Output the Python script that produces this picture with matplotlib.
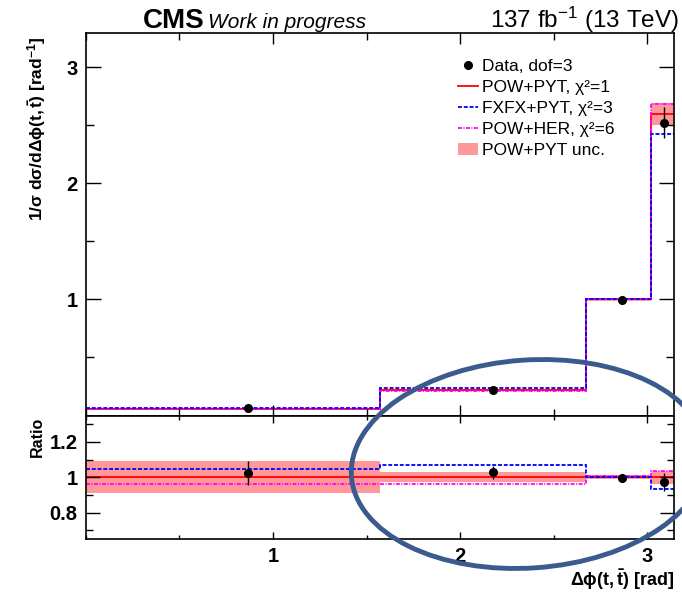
import matplotlib
matplotlib.use("Agg")
import matplotlib.pyplot as plt
import numpy as np
from matplotlib.lines import Line2D
from matplotlib.patches import Ellipse, Patch
from matplotlib.ticker import FixedLocator, MultipleLocator, FuncFormatter

plt.rcParams["font.family"] = ["Liberation Sans", "DejaVu Sans"]
plt.rcParams["mathtext.fontset"] = "custom"
plt.rcParams["mathtext.rm"] = "Liberation Sans"
plt.rcParams["mathtext.it"] = "Liberation Sans:italic"
plt.rcParams["mathtext.bf"] = "Liberation Sans:bold"
plt.rcParams["mathtext.sf"] = "Liberation Sans"

# binning in delta phi (rad)
bin_edges = [0.0, 1.5708, 2.670, 3.020, 3.1416]

# unfolded data, normalised
data_x = [0.866, 2.176, 2.863, 3.089]
data_y = [0.0614, 0.2240, 0.998, 2.523]
data_err = [0.0042, 0.0078, 0.012, 0.135]

# predictions
pow_pyt = [0.0600, 0.2180, 1.000, 2.595]
pow_pyt_unc = [0.0054, 0.0061, 0.010, 0.095]
fxfx_pyt = [0.0628, 0.2328, 1.000, 2.426]
pow_her = [0.0577, 0.2097, 1.005, 2.683]

legend_labels = ["Data, dof=3", "POW+PYT, χ²=1", "FXFX+PYT, χ²=3",
                 "POW+HER, χ²=6", "POW+PYT unc."]

band_col = "#ff9999"
dash_blue = (0, (2.2, 1.0))
dashdot_mag = (0, (2.2, 0.8, 0.6, 0.8))
lw = 1.3

fig = plt.figure(figsize=(6.82, 6.0), dpi=100)
W, H = 682.0, 600.0
ax = fig.add_axes([85.8 / W, 1 - 415.5 / H, (674 - 85.8) / W, (415.5 - 32.5) / H])
rax = fig.add_axes([85.8 / W, 1 - 539 / H, (674 - 85.8) / W, (539 - 415.5) / H])

ref = np.array(pow_pyt)
unc = np.array(pow_pyt_unc)

# --- main panel ---
ax.stairs(ref + unc, bin_edges, baseline=ref - unc, fill=True, color=band_col, lw=0)
ax.stairs(ref, bin_edges, baseline=None, color="red", lw=lw)
ax.stairs(pow_her, bin_edges, baseline=None, color="magenta", lw=lw, linestyle=dashdot_mag)
ax.stairs(fxfx_pyt, bin_edges, baseline=None, color="blue", lw=lw, linestyle=dash_blue)
ax.errorbar(data_x, data_y, yerr=data_err, fmt="o", color="black", ms=5.5,
            elinewidth=1, capsize=0, zorder=5)

# --- ratio panel ---
rax.stairs(1 + unc / ref, bin_edges, baseline=1 - unc / ref, fill=True, color=band_col, lw=0)
rax.stairs(np.ones(len(ref)), bin_edges, baseline=None, color="red", lw=lw)
rax.stairs(np.array(pow_her) / ref, bin_edges, baseline=None, color="magenta", lw=lw,
           linestyle=dashdot_mag)
rax.stairs(np.array(fxfx_pyt) / ref, bin_edges, baseline=None, color="blue", lw=lw,
           linestyle=dash_blue)
rax.errorbar(data_x, np.array(data_y) / ref, yerr=np.array(data_err) / ref, fmt="o",
             color="black", ms=5.5, elinewidth=1, capsize=0, zorder=5)

for a in (ax, rax):
    a.set_xlim(0, np.pi)
    a.xaxis.set_major_locator(FixedLocator([1, 2, 3]))
    a.xaxis.set_minor_locator(MultipleLocator(0.5))
    for s in a.spines.values():
        s.set_linewidth(1.2)
    a.tick_params(which="both", direction="in", top=True, right=True, width=1)

ax.set_ylim(0, 3.3)
ax.yaxis.set_major_locator(FixedLocator([1, 2, 3]))
ax.yaxis.set_minor_locator(MultipleLocator(0.5))
ax.tick_params(axis="x", labelbottom=False)
ax.tick_params(axis="x", which="major", length=8)
ax.tick_params(axis="x", which="minor", length=5)
ax.tick_params(axis="y", which="major", length=11, labelsize=14.5, pad=6)
ax.tick_params(axis="y", which="minor", length=6)
for t in ax.get_yticklabels():
    t.set_fontweight("bold")

rax.set_ylim(0.65, 1.35)
rax.yaxis.set_major_locator(MultipleLocator(0.2))
rax.yaxis.set_minor_locator(MultipleLocator(0.1))
rax.yaxis.set_major_formatter(FuncFormatter(lambda v, p: "%g" % round(v, 2)))
rax.tick_params(axis="x", which="major", length=5, labelsize=14.5, pad=6)
rax.tick_params(axis="x", which="minor", length=3)
rax.tick_params(axis="y", which="major", length=10, labelsize=14.5, pad=6)
rax.tick_params(axis="y", which="minor", length=5)
for t in rax.get_yticklabels() + rax.get_xticklabels():
    t.set_fontweight("bold")

# axis titles aligned to the top / right end, ROOT style
ax.set_ylabel(r"$\mathbf{1/\sigma\ d\sigma/d\Delta\phi(t,\bar{t})\ [rad^{-1}]}$",
              fontsize=12.5, ha="right", va="center")
ax.yaxis.set_label_coords(-0.083, 0.99)
rax.set_ylabel("Ratio", fontsize=11.5, fontweight="bold", ha="right", va="center")
rax.yaxis.set_label_coords(-0.083, 0.99)
rax.set_xlabel(r"$\mathbf{\Delta\phi(t,\bar{t})\ [rad]}$", fontsize=13, ha="right", va="center")
rax.xaxis.set_label_coords(1.0, -0.33)

handles = [
    Line2D([], [], marker="o", ls="none", color="black", ms=5.5),
    Line2D([], [], color="red", lw=lw),
    Line2D([], [], color="blue", lw=lw, linestyle=dash_blue),
    Line2D([], [], color="magenta", lw=lw, linestyle=dashdot_mag),
    Patch(color=band_col, lw=0),
]
ax.legend(handles, legend_labels, loc="upper left", bbox_to_anchor=(0.632, 0.93),
          frameon=False, fontsize=12.5, handlelength=1.15, handletextpad=0.25,
          labelspacing=0.33, borderpad=0, borderaxespad=0)

# header
fig.text(143 / W, 1 - 28 / H, "CMS", fontsize=20, fontweight="bold", va="baseline")
fig.text(208 / W, 1 - 28 / H, "Work in progress", fontsize=15, style="italic", va="baseline")
fig.text(679 / W, 1 - 28 / H, r"137 fb$^{-1}$ (13 TeV)", fontsize=17.5, ha="right", va="baseline")

# highlight of the high delta-phi region
fig.add_artist(Ellipse((5.29, 1.36), 3.56, 2.08, angle=4, fill=False, ec="#3a5b8c", lw=3.5,
                       transform=fig.dpi_scale_trans, zorder=10))

fig.savefig("out.png", dpi=100)
